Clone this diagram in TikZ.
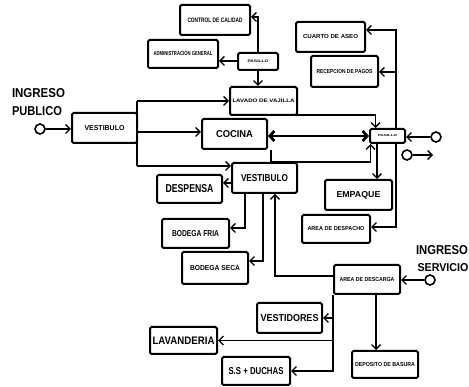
\documentclass[tikz,border=0pt]{standalone}
\usepackage{fontspec}
\setmainfont{Liberation Sans}
\usetikzlibrary{arrows.meta}
\newcommand\tx[3]{\resizebox{#1pt}{#2pt}{\bfseries #3}}
\begin{document}
\begin{tikzpicture}[x=1pt,y=-1pt,
  box/.style 2 args={draw,line width=2pt,rounded corners=1.5pt,fill=white,inner sep=0pt,minimum width=#1pt,minimum height=#2pt},
  arr/.style={line width=1.4pt,-{Straight Barb[length=4.5pt,width=9pt]}},
  dbl/.style={line width=2.8pt,{Straight Barb[length=4.5pt,width=10pt]}-{Straight Barb[length=4.5pt,width=10pt]}},
  plain/.style={line width=1.4pt},
  circ/.style={circle,draw,line width=1.6pt,minimum size=10pt,inner sep=0pt,fill=white},
  lbl/.style={inner sep=0pt}]
\useasboundingbox (0,0) rectangle (469,387);
% boxes
\node[box={70}{30}] (ctrl) at (215,20) {\tx{55}{4.5}{CONTROL DE CALIDAD}};
\node[box={70}{28}] (ofi) at (183,54) {\tx{59}{4}{ADMINISTRACION GENERAL}};
\node[box={40}{17}] (pas1) at (258,61.5) {\tx{21}{2.5}{PASILLO}};
\node[box={69}{30}] (aseo) at (330.5,37) {\tx{55}{4}{CUARTO DE ASEO}};
\node[box={67}{31}] (recep) at (344.5,71.5) {\tx{56}{4}{RECEPCION DE PAGOS}};
\node[box={67}{28}] (lav) at (263.5,101) {\tx{62}{3.5}{LAVADO DE VAJILLA}};
\node[box={65}{30}] (cocina) at (234.5,134) {\tx{37}{7}{COCINA}};
\node[box={35}{14}] (pas2) at (387.5,136) {\tx{19}{2}{PASILLO}};
\node[box={67}{30}] (empaque) at (358.5,195) {\tx{44}{6}{EMPAQUE}};
\node[box={68}{28}] (despacho) at (336,229) {\tx{57}{4}{AREA DE DESPACHO}};
\node[box={65}{30}] (vest1) at (104.5,128) {\tx{40}{5}{VESTIBULO}};
\node[box={65}{30}] (vest2) at (264.5,178) {\tx{47}{7}{VESTIBULO}};
\node[box={65}{28}] (despensa) at (189.5,189) {\tx{48}{8}{DESPENSA}};
\node[box={67}{29}] (bfria) at (195.5,233.5) {\tx{47}{6}{BODEGA FRIA}};
\node[box={66}{32}] (bseca) at (215,268) {\tx{50}{5}{BODEGA SECA}};
\node[box={66}{29}] (descarga) at (367,279.5) {\tx{55}{4}{AREA DE DESCARGA}};
\node[box={65}{30}] (vestidores) at (289.5,318) {\tx{58}{7}{VESTIDORES}};
\node[box={67}{27}] (lavanderia) at (183.5,340.5) {\tx{62}{7.5}{LAVANDERIA}};
\node[box={68}{28}] (ssd) at (256,371) {\tx{55}{7}{S.S + DUCHAS}};
\node[box={66}{27}] (depo) at (385,364.5) {\tx{60}{4}{DEPOSITO DE BASURA}};
% entrances
\node[circ] (c1) at (40,129) {};
\node[circ] (c2) at (436,137) {};
\node[circ] (c3) at (407,155) {};
\node[circ] (c4) at (430,280) {};
\coordinate (o3) at (433,155);
\node[lbl] (ingp1) at (38.5,93) {\tx{53}{9}{INGRESO}};
\node[lbl] (ingp2) at (37,111) {\tx{50}{9}{PUBLICO}};
\node[lbl] (ings1) at (442,250) {\tx{52}{9}{INGRESO}};
\node[lbl] (ings2) at (443,268) {\tx{51}{8}{SERVICIO}};
% helper coordinates
\coordinate (v1) at (137,101);
\coordinate (v2) at (137,166);
\coordinate (k1) at (270,115);
\coordinate (rl) at (396,72);
\coordinate (e1) at (377,143);
% connectors
\draw[arr] (pas1.north) |- (ctrl.east |- 0,17);
\draw[arr] (pas1.west |- 0,61) -- (ofi.east |- 0,61);
\draw[arr] (pas1.south) -- (pas1.south |- lav.north);
\draw[arr] (pas2.north -| rl) |- (aseo.east |- 0,30);
\draw[arr] (rl) -- (recep.east |- rl);
\draw[arr] (pas2.south -| rl) |- (despacho.east |- 0,227);
\draw[arr] (c1) -- (vest1.west |- c1);
\draw[plain] (v1) -- (v2);
\draw[arr] (v1) -- (lav.west |- v1);
\draw[arr] (vest1.east |- 0,132) -- (cocina.west |- 0,132);
\draw[arr] (v2) -- (vest2.west |- v2);
\draw[arr] (k1) -| ([xshift=-12pt]pas2.north);
\draw[dbl] (cocina.east |- pas2.west) -- (pas2.west);
\draw[arr] ([xshift=3pt]cocina.south east) -- ++(0,12) -| ([xshift=-17pt]pas2.south);
\draw[arr] (c2) -- (pas2.east |- c2);
\draw[arr] (c3) -- (o3);
\draw[arr] (e1) -- (e1 |- empaque.north);
\draw[arr] (vest2.west |- 0,183) -- (despensa.east |- 0,183);
\draw[arr] (vest2.south -| 245,0) |- (bfria.east |- 0,228);
\draw[arr] (vest2.south -| 263,0) |- (bseca.east |- 0,261);
\draw[arr] (descarga.west |- 0,276) -| (vest2.south -| 275,0);
\draw[arr] (descarga.south west) |- (vestidores.east);
\draw[arr] (descarga.south west) |- (lavanderia.east);
\draw[arr] (descarga.south west) |- (ssd.east);
\draw[arr] (descarga.south -| 376,0) -- (depo.north -| 376,0);
\draw[arr] (c4) -- (descarga.east |- c4);
\end{tikzpicture}
\end{document}
